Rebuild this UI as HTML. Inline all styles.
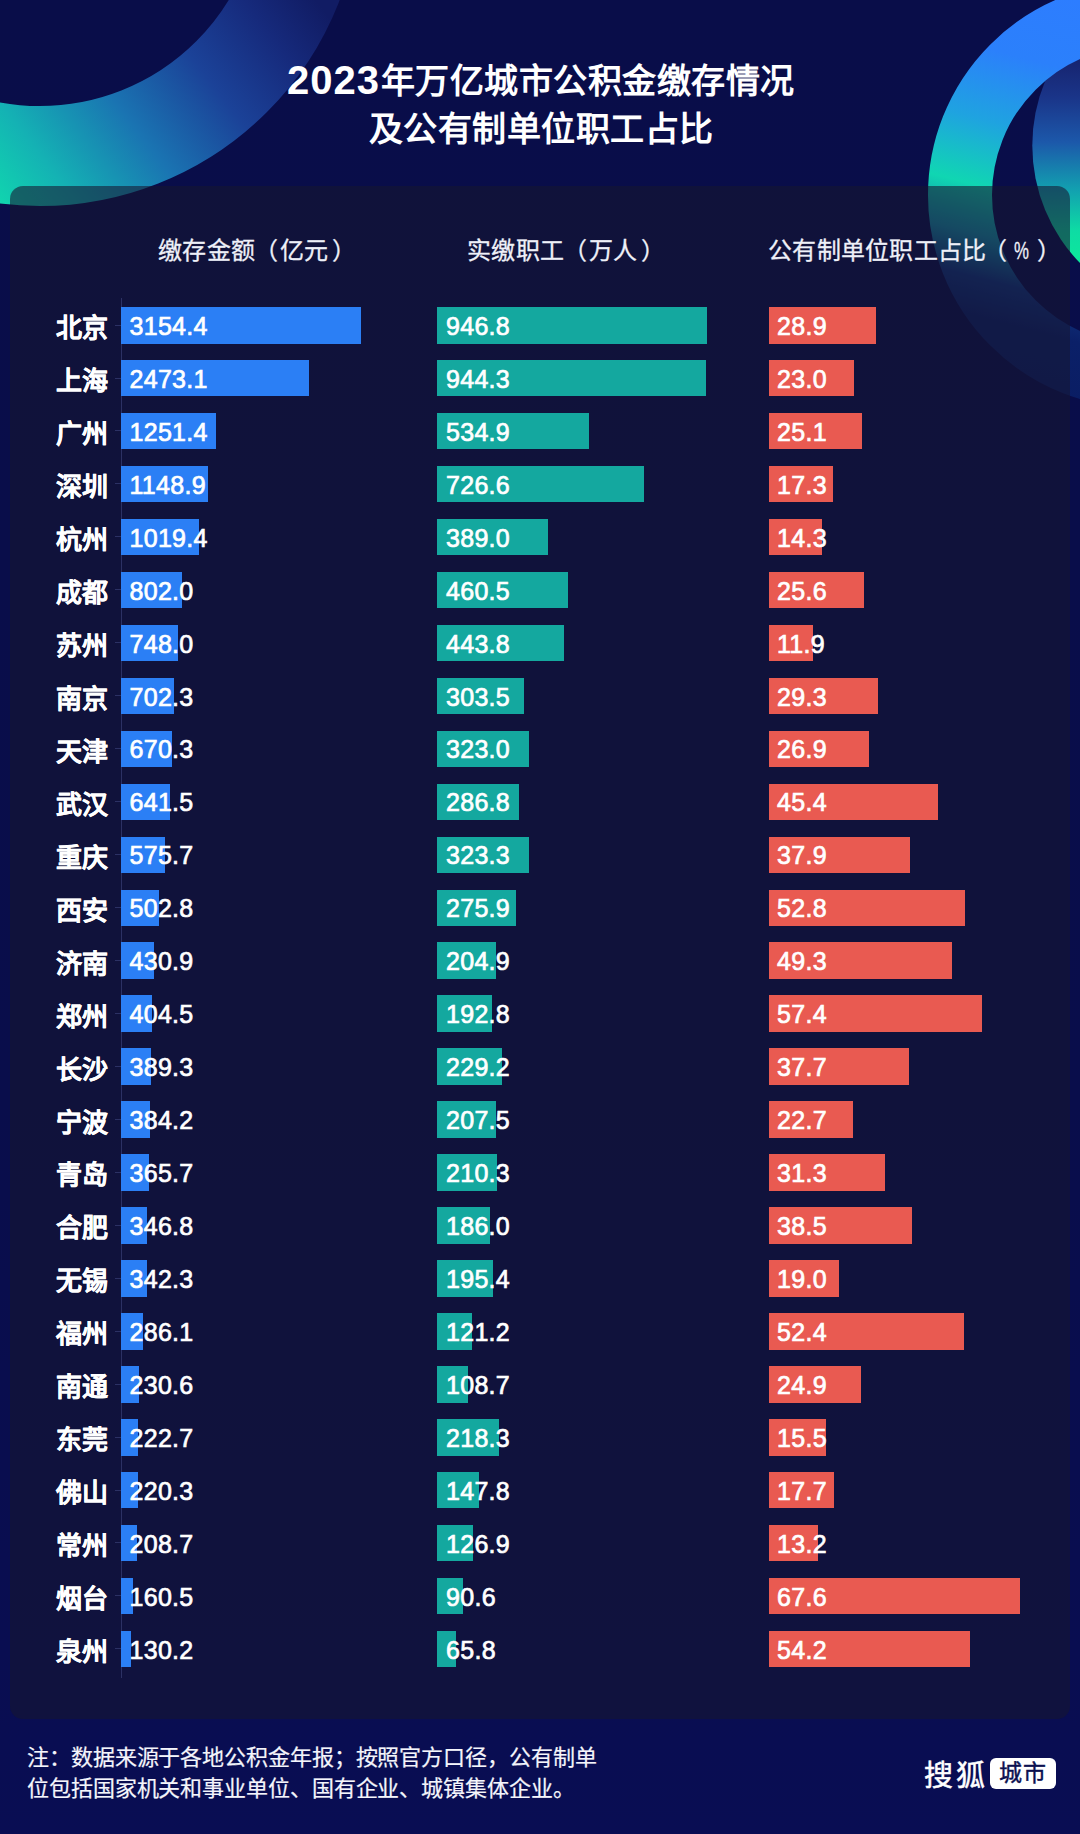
<!DOCTYPE html>
<html lang="zh-CN"><head><meta charset="utf-8"><title>2023年万亿城市公积金缴存情况</title>
<style>
*{margin:0;padding:0;box-sizing:border-box}
html,body{width:1080px;height:1834px;overflow:hidden}
body{position:relative;font-family:"Liberation Sans",sans-serif;color:#fff;
 background:linear-gradient(180deg,#090d49 0%,#090d4b 60%,#090d53 100%);}
#deco{position:absolute;left:0;top:0;width:1080px;height:1834px}
#panel{position:absolute;left:10px;top:186px;width:1060px;height:1533px;border-radius:13px;background:rgba(23,22,49,0.58)}
.title{position:absolute;left:0;width:1082px;text-align:center;font-weight:bold;font-size:34px;letter-spacing:0.5px;line-height:48px;white-space:nowrap;color:#fff}
.title .d{font-size:40px;letter-spacing:1px;vertical-align:-1px;margin-right:1px}
.hd{position:absolute;top:235.5px;font-size:24px;line-height:30px;color:#eef0f8;white-space:nowrap;letter-spacing:0.3px;-webkit-text-stroke:0.3px #eef0f8}
.hd .l{margin-left:-1px;margin-right:1px}.hd .r{margin-left:4px}
.hd .l3{margin-left:-4px;margin-right:6.5px}.hd .pc{display:inline-block;width:15px;transform:scaleX(0.7);transform-origin:0 50%;letter-spacing:0}.hd .r3{margin-left:8px}
.axis{position:absolute;left:120.5px;top:298px;width:1px;height:1380px;background:#2c3164}
.tick{position:absolute;left:115px;width:5.5px;height:1px;background:#2c3164}
.city{position:absolute;left:20px;width:88px;text-align:right;font-weight:bold;font-size:26px;line-height:36px;white-space:nowrap;-webkit-text-stroke:0.25px #fff}
.bar{position:absolute;height:36.6px}
.b1{background:#2b7ff5}
.b2{background:#14a89f}
.b3{background:#e95a51}
.v{position:absolute;font-size:25px;letter-spacing:0.3px;line-height:37px;white-space:nowrap;color:#fff;-webkit-text-stroke:0.7px #fff}
.note{position:absolute;left:27px;top:1741.5px;font-size:22px;letter-spacing:-0.1px;line-height:31.2px;color:#f4f5fb;white-space:nowrap;-webkit-text-stroke:0.2px #f4f5fb}
.logo1{position:absolute;left:924px;top:1758px;font-size:29px;line-height:36px;letter-spacing:2.5px;white-space:nowrap;color:#fff;-webkit-text-stroke:0.5px #fff}
.logo2{position:absolute;left:989.5px;top:1757.5px;width:66px;height:31.5px;border-radius:6px;background:#fff;color:#0c1050;font-size:23px;line-height:31px;text-align:center;white-space:nowrap;letter-spacing:1px;padding-left:1px;-webkit-text-stroke:0.4px #0c1050}
</style></head>
<body>

<svg id="deco" viewBox="0 0 1080 1834">
<defs>
<linearGradient id="gl" gradientUnits="userSpaceOnUse" x1="0" y1="215" x2="300" y2="-20">
<stop offset="0" stop-color="#10d8ae"/><stop offset="0.18" stop-color="#14b2b4"/><stop offset="0.42" stop-color="#1a74b2"/><stop offset="0.65" stop-color="#1b4298"/><stop offset="0.85" stop-color="#162a7c"/><stop offset="1" stop-color="#111c64"/>
</linearGradient>
<linearGradient id="gr" gradientUnits="userSpaceOnUse" x1="1080" y1="0" x2="975" y2="407">
<stop offset="0" stop-color="#2d7dff"/><stop offset="0.167" stop-color="#2b80fb"/><stop offset="0.333" stop-color="#1fa3e0"/><stop offset="0.488" stop-color="#10d6b2"/><stop offset="0.60" stop-color="#1390a8"/><stop offset="0.70" stop-color="#10347e"/><stop offset="0.79" stop-color="#0b2068"/><stop offset="1" stop-color="#0a1c62"/>
</linearGradient>
<linearGradient id="gi" gradientUnits="userSpaceOnUse" x1="0" y1="55" x2="0" y2="262">
<stop offset="0" stop-color="#16226c"/><stop offset="0.2" stop-color="#1a3488"/><stop offset="0.42" stop-color="#1c58aa"/><stop offset="0.65" stop-color="#12a0b0"/><stop offset="0.85" stop-color="#0edca4"/><stop offset="1" stop-color="#0ce89c"/>
</linearGradient>
</defs>
<circle cx="40" cy="-115" r="271" fill="none" stroke="url(#gl)" stroke-width="100"/>
<circle cx="1201" cy="145.5" r="168.7" fill="url(#gi)"/>
<circle cx="1141" cy="195" r="181" fill="none" stroke="url(#gr)" stroke-width="64"/>
</svg>

<div id="panel"></div>
<div class="title" style="top:56px"><span class="d">2023</span>年万亿城市公积金缴存情况</div>
<div class="title" style="top:105px">及公有制单位职工占比</div>
<div class="hd" style="left:158px">缴存金额<span class="l">（</span>亿元<span class="r">）</span></div>
<div class="hd" style="left:467px">实缴职工<span class="l">（</span>万人<span class="r">）</span></div>
<div class="hd" style="left:768px">公有制单位职工占比<span class="l3">（</span><span class="pc">%</span><span class="r3">）</span></div>
<div class="axis"></div>
<div class="tick" style="top:324.6px"></div>
<div class="city" style="top:310.2px">北京</div>
<div class="bar b1" style="left:121.0px;top:307.0px;width:240.0px"></div>
<div class="bar b2" style="left:437.3px;top:307.0px;width:269.4px"></div>
<div class="bar b3" style="left:768.5px;top:307.0px;width:107.6px"></div>
<div class="v" style="left:129.5px;top:307.8px">3154.4</div>
<div class="v" style="left:446.0px;top:307.8px">946.8</div>
<div class="v" style="left:777.0px;top:307.8px">28.9</div>
<div class="tick" style="top:377.5px"></div>
<div class="city" style="top:363.1px">上海</div>
<div class="bar b1" style="left:121.0px;top:359.9px;width:188.2px"></div>
<div class="bar b2" style="left:437.3px;top:359.9px;width:268.7px"></div>
<div class="bar b3" style="left:768.5px;top:359.9px;width:85.6px"></div>
<div class="v" style="left:129.5px;top:360.8px">2473.1</div>
<div class="v" style="left:446.0px;top:360.8px">944.3</div>
<div class="v" style="left:777.0px;top:360.8px">23.0</div>
<div class="tick" style="top:430.4px"></div>
<div class="city" style="top:416.1px">广州</div>
<div class="bar b1" style="left:121.0px;top:412.9px;width:95.2px"></div>
<div class="bar b2" style="left:437.3px;top:412.9px;width:152.2px"></div>
<div class="bar b3" style="left:768.5px;top:412.9px;width:93.5px"></div>
<div class="v" style="left:129.5px;top:413.7px">1251.4</div>
<div class="v" style="left:446.0px;top:413.7px">534.9</div>
<div class="v" style="left:777.0px;top:413.7px">25.1</div>
<div class="tick" style="top:483.4px"></div>
<div class="city" style="top:469.1px">深圳</div>
<div class="bar b1" style="left:121.0px;top:465.9px;width:87.4px"></div>
<div class="bar b2" style="left:437.3px;top:465.9px;width:206.7px"></div>
<div class="bar b3" style="left:768.5px;top:465.9px;width:64.4px"></div>
<div class="v" style="left:129.5px;top:466.7px">1148.9</div>
<div class="v" style="left:446.0px;top:466.7px">726.6</div>
<div class="v" style="left:777.0px;top:466.7px">17.3</div>
<div class="tick" style="top:536.3px"></div>
<div class="city" style="top:522.0px">杭州</div>
<div class="bar b1" style="left:121.0px;top:518.8px;width:77.6px"></div>
<div class="bar b2" style="left:437.3px;top:518.8px;width:110.7px"></div>
<div class="bar b3" style="left:768.5px;top:518.8px;width:53.2px"></div>
<div class="v" style="left:129.5px;top:519.6px">1019.4</div>
<div class="v" style="left:446.0px;top:519.6px">389.0</div>
<div class="v" style="left:777.0px;top:519.6px">14.3</div>
<div class="tick" style="top:589.3px"></div>
<div class="city" style="top:575.0px">成都</div>
<div class="bar b1" style="left:121.0px;top:571.8px;width:61.0px"></div>
<div class="bar b2" style="left:437.3px;top:571.8px;width:131.0px"></div>
<div class="bar b3" style="left:768.5px;top:571.8px;width:95.3px"></div>
<div class="v" style="left:129.5px;top:572.5px">802.0</div>
<div class="v" style="left:446.0px;top:572.5px">460.5</div>
<div class="v" style="left:777.0px;top:572.5px">25.6</div>
<div class="tick" style="top:642.2px"></div>
<div class="city" style="top:627.9px">苏州</div>
<div class="bar b1" style="left:121.0px;top:624.7px;width:56.9px"></div>
<div class="bar b2" style="left:437.3px;top:624.7px;width:126.3px"></div>
<div class="bar b3" style="left:768.5px;top:624.7px;width:44.3px"></div>
<div class="v" style="left:129.5px;top:625.5px">748.0</div>
<div class="v" style="left:446.0px;top:625.5px">443.8</div>
<div class="v" style="left:777.0px;top:625.5px">11.9</div>
<div class="tick" style="top:695.2px"></div>
<div class="city" style="top:680.9px">南京</div>
<div class="bar b1" style="left:121.0px;top:677.7px;width:53.4px"></div>
<div class="bar b2" style="left:437.3px;top:677.7px;width:86.4px"></div>
<div class="bar b3" style="left:768.5px;top:677.7px;width:109.1px"></div>
<div class="v" style="left:129.5px;top:678.5px">702.3</div>
<div class="v" style="left:446.0px;top:678.5px">303.5</div>
<div class="v" style="left:777.0px;top:678.5px">29.3</div>
<div class="tick" style="top:748.1px"></div>
<div class="city" style="top:733.8px">天津</div>
<div class="bar b1" style="left:121.0px;top:730.6px;width:51.0px"></div>
<div class="bar b2" style="left:437.3px;top:730.6px;width:91.9px"></div>
<div class="bar b3" style="left:768.5px;top:730.6px;width:100.2px"></div>
<div class="v" style="left:129.5px;top:731.4px">670.3</div>
<div class="v" style="left:446.0px;top:731.4px">323.0</div>
<div class="v" style="left:777.0px;top:731.4px">26.9</div>
<div class="tick" style="top:801.1px"></div>
<div class="city" style="top:786.8px">武汉</div>
<div class="bar b1" style="left:121.0px;top:783.5px;width:48.8px"></div>
<div class="bar b2" style="left:437.3px;top:783.5px;width:81.6px"></div>
<div class="bar b3" style="left:768.5px;top:783.5px;width:169.0px"></div>
<div class="v" style="left:129.5px;top:784.3px">641.5</div>
<div class="v" style="left:446.0px;top:784.3px">286.8</div>
<div class="v" style="left:777.0px;top:784.3px">45.4</div>
<div class="tick" style="top:854.0px"></div>
<div class="city" style="top:839.7px">重庆</div>
<div class="bar b1" style="left:121.0px;top:836.5px;width:43.8px"></div>
<div class="bar b2" style="left:437.3px;top:836.5px;width:92.0px"></div>
<div class="bar b3" style="left:768.5px;top:836.5px;width:141.1px"></div>
<div class="v" style="left:129.5px;top:837.3px">575.7</div>
<div class="v" style="left:446.0px;top:837.3px">323.3</div>
<div class="v" style="left:777.0px;top:837.3px">37.9</div>
<div class="tick" style="top:907.0px"></div>
<div class="city" style="top:892.7px">西安</div>
<div class="bar b1" style="left:121.0px;top:889.5px;width:38.3px"></div>
<div class="bar b2" style="left:437.3px;top:889.5px;width:78.5px"></div>
<div class="bar b3" style="left:768.5px;top:889.5px;width:196.6px"></div>
<div class="v" style="left:129.5px;top:890.2px">502.8</div>
<div class="v" style="left:446.0px;top:890.2px">275.9</div>
<div class="v" style="left:777.0px;top:890.2px">52.8</div>
<div class="tick" style="top:960.0px"></div>
<div class="city" style="top:945.6px">济南</div>
<div class="bar b1" style="left:121.0px;top:942.4px;width:32.8px"></div>
<div class="bar b2" style="left:437.3px;top:942.4px;width:58.3px"></div>
<div class="bar b3" style="left:768.5px;top:942.4px;width:183.6px"></div>
<div class="v" style="left:129.5px;top:943.2px">430.9</div>
<div class="v" style="left:446.0px;top:943.2px">204.9</div>
<div class="v" style="left:777.0px;top:943.2px">49.3</div>
<div class="tick" style="top:1012.9px"></div>
<div class="city" style="top:998.6px">郑州</div>
<div class="bar b1" style="left:121.0px;top:995.4px;width:30.8px"></div>
<div class="bar b2" style="left:437.3px;top:995.4px;width:54.9px"></div>
<div class="bar b3" style="left:768.5px;top:995.4px;width:213.7px"></div>
<div class="v" style="left:129.5px;top:996.1px">404.5</div>
<div class="v" style="left:446.0px;top:996.1px">192.8</div>
<div class="v" style="left:777.0px;top:996.1px">57.4</div>
<div class="tick" style="top:1065.9px"></div>
<div class="city" style="top:1051.5px">长沙</div>
<div class="bar b1" style="left:121.0px;top:1048.3px;width:29.6px"></div>
<div class="bar b2" style="left:437.3px;top:1048.3px;width:65.2px"></div>
<div class="bar b3" style="left:768.5px;top:1048.3px;width:140.4px"></div>
<div class="v" style="left:129.5px;top:1049.1px">389.3</div>
<div class="v" style="left:446.0px;top:1049.1px">229.2</div>
<div class="v" style="left:777.0px;top:1049.1px">37.7</div>
<div class="tick" style="top:1118.8px"></div>
<div class="city" style="top:1104.5px">宁波</div>
<div class="bar b1" style="left:121.0px;top:1101.2px;width:29.2px"></div>
<div class="bar b2" style="left:437.3px;top:1101.2px;width:59.0px"></div>
<div class="bar b3" style="left:768.5px;top:1101.2px;width:84.5px"></div>
<div class="v" style="left:129.5px;top:1102.0px">384.2</div>
<div class="v" style="left:446.0px;top:1102.0px">207.5</div>
<div class="v" style="left:777.0px;top:1102.0px">22.7</div>
<div class="tick" style="top:1171.8px"></div>
<div class="city" style="top:1157.4px">青岛</div>
<div class="bar b1" style="left:121.0px;top:1154.2px;width:27.8px"></div>
<div class="bar b2" style="left:437.3px;top:1154.2px;width:59.8px"></div>
<div class="bar b3" style="left:768.5px;top:1154.2px;width:116.5px"></div>
<div class="v" style="left:129.5px;top:1155.0px">365.7</div>
<div class="v" style="left:446.0px;top:1155.0px">210.3</div>
<div class="v" style="left:777.0px;top:1155.0px">31.3</div>
<div class="tick" style="top:1224.7px"></div>
<div class="city" style="top:1210.4px">合肥</div>
<div class="bar b1" style="left:121.0px;top:1207.2px;width:26.4px"></div>
<div class="bar b2" style="left:437.3px;top:1207.2px;width:52.9px"></div>
<div class="bar b3" style="left:768.5px;top:1207.2px;width:143.3px"></div>
<div class="v" style="left:129.5px;top:1208.0px">346.8</div>
<div class="v" style="left:446.0px;top:1208.0px">186.0</div>
<div class="v" style="left:777.0px;top:1208.0px">38.5</div>
<div class="tick" style="top:1277.6px"></div>
<div class="city" style="top:1263.3px">无锡</div>
<div class="bar b1" style="left:121.0px;top:1260.1px;width:26.0px"></div>
<div class="bar b2" style="left:437.3px;top:1260.1px;width:55.6px"></div>
<div class="bar b3" style="left:768.5px;top:1260.1px;width:70.7px"></div>
<div class="v" style="left:129.5px;top:1260.9px">342.3</div>
<div class="v" style="left:446.0px;top:1260.9px">195.4</div>
<div class="v" style="left:777.0px;top:1260.9px">19.0</div>
<div class="tick" style="top:1330.6px"></div>
<div class="city" style="top:1316.3px">福州</div>
<div class="bar b1" style="left:121.0px;top:1313.1px;width:21.8px"></div>
<div class="bar b2" style="left:437.3px;top:1313.1px;width:34.5px"></div>
<div class="bar b3" style="left:768.5px;top:1313.1px;width:195.1px"></div>
<div class="v" style="left:129.5px;top:1313.9px">286.1</div>
<div class="v" style="left:446.0px;top:1313.9px">121.2</div>
<div class="v" style="left:777.0px;top:1313.9px">52.4</div>
<div class="tick" style="top:1383.5px"></div>
<div class="city" style="top:1369.2px">南通</div>
<div class="bar b1" style="left:121.0px;top:1366.0px;width:17.5px"></div>
<div class="bar b2" style="left:437.3px;top:1366.0px;width:30.9px"></div>
<div class="bar b3" style="left:768.5px;top:1366.0px;width:92.7px"></div>
<div class="v" style="left:129.5px;top:1366.8px">230.6</div>
<div class="v" style="left:446.0px;top:1366.8px">108.7</div>
<div class="v" style="left:777.0px;top:1366.8px">24.9</div>
<div class="tick" style="top:1436.5px"></div>
<div class="city" style="top:1422.2px">东莞</div>
<div class="bar b1" style="left:121.0px;top:1419.0px;width:16.9px"></div>
<div class="bar b2" style="left:437.3px;top:1419.0px;width:62.1px"></div>
<div class="bar b3" style="left:768.5px;top:1419.0px;width:57.7px"></div>
<div class="v" style="left:129.5px;top:1419.8px">222.7</div>
<div class="v" style="left:446.0px;top:1419.8px">218.3</div>
<div class="v" style="left:777.0px;top:1419.8px">15.5</div>
<div class="tick" style="top:1489.5px"></div>
<div class="city" style="top:1475.1px">佛山</div>
<div class="bar b1" style="left:121.0px;top:1471.9px;width:16.8px"></div>
<div class="bar b2" style="left:437.3px;top:1471.9px;width:42.1px"></div>
<div class="bar b3" style="left:768.5px;top:1471.9px;width:65.9px"></div>
<div class="v" style="left:129.5px;top:1472.7px">220.3</div>
<div class="v" style="left:446.0px;top:1472.7px">147.8</div>
<div class="v" style="left:777.0px;top:1472.7px">17.7</div>
<div class="tick" style="top:1542.4px"></div>
<div class="city" style="top:1528.1px">常州</div>
<div class="bar b1" style="left:121.0px;top:1524.9px;width:15.9px"></div>
<div class="bar b2" style="left:437.3px;top:1524.9px;width:36.1px"></div>
<div class="bar b3" style="left:768.5px;top:1524.9px;width:49.1px"></div>
<div class="v" style="left:129.5px;top:1525.7px">208.7</div>
<div class="v" style="left:446.0px;top:1525.7px">126.9</div>
<div class="v" style="left:777.0px;top:1525.7px">13.2</div>
<div class="tick" style="top:1595.4px"></div>
<div class="city" style="top:1581.0px">烟台</div>
<div class="bar b1" style="left:121.0px;top:1577.8px;width:12.2px"></div>
<div class="bar b2" style="left:437.3px;top:1577.8px;width:25.8px"></div>
<div class="bar b3" style="left:768.5px;top:1577.8px;width:251.7px"></div>
<div class="v" style="left:129.5px;top:1578.6px">160.5</div>
<div class="v" style="left:446.0px;top:1578.6px">90.6</div>
<div class="v" style="left:777.0px;top:1578.6px">67.6</div>
<div class="tick" style="top:1648.3px"></div>
<div class="city" style="top:1634.0px">泉州</div>
<div class="bar b1" style="left:121.0px;top:1630.8px;width:9.9px"></div>
<div class="bar b2" style="left:437.3px;top:1630.8px;width:18.7px"></div>
<div class="bar b3" style="left:768.5px;top:1630.8px;width:201.8px"></div>
<div class="v" style="left:129.5px;top:1631.5px">130.2</div>
<div class="v" style="left:446.0px;top:1631.5px">65.8</div>
<div class="v" style="left:777.0px;top:1631.5px">54.2</div>
<div class="note">注：数据来源于各地公积金年报；按照官方口径，公有制单<br>位包括国家机关和事业单位、国有企业、城镇集体企业。</div>
<div class="logo1">搜狐</div><div class="logo2">城市</div>
</body></html>
